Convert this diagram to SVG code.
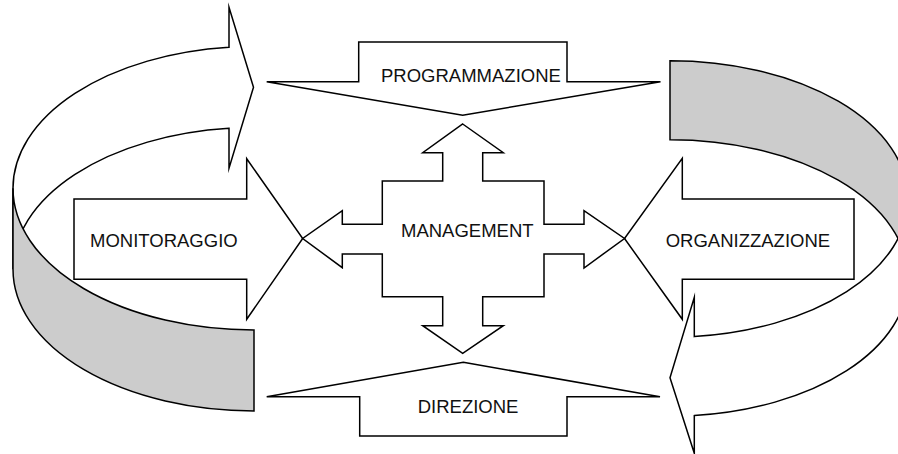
<svg xmlns="http://www.w3.org/2000/svg" width="898" height="454" viewBox="0 0 898 454">
<style>
.s{fill:#ffffff;stroke:#000;stroke-width:1.5;stroke-linejoin:miter;stroke-miterlimit:10}
.g{fill:#cccccc;stroke:#000;stroke-width:1.5;stroke-linejoin:miter}
.t{font-family:"Liberation Sans",Arial,sans-serif;font-size:18.5px;fill:#111}
</style>
<rect width="898" height="454" fill="#fff"/>
<g id="connectors">
<g id="ribbon-left">
<path class="s" d="M229,47.3 L229,7.3 L253.5,87.3 L229,168.3 L229,128.3 A241 141.7 0 0 0 13,269.2 L13,188.3 A241 141.7 0 0 1 229,47.3 Z"/>
<path class="g" d="M13,188.3 A241 141.7 0 0 0 254,330 L254,410.9 A241 141.7 0 0 1 13,269.2 Z"/>
</g>
<g id="ribbon-right">
<path class="s" d="M694.3,336.6 L694.3,297.3 L670,377.7 L694.3,453.3 L694.3,415.6 A238 138.3 0 0 0 908,278 L908,199 A238 138.3 0 0 1 694.3,336.6 Z"/>
<path class="g" d="M670,60.7 A238 138.3 0 0 1 908,199 L908,278 A238 138.3 0 0 0 670,139.7 Z"/>
</g>
</g>
<g id="programmazione">
<path class="s" d="M358.7,81.7 L358.7,42 L567,42 L567,81.7 L660.5,81.7 L462.7,115.3 L266.7,81.7 Z"/>
<text class="t" x="381" y="81.5">PROGRAMMAZIONE</text>
</g>
<g id="direzione">
<path class="s" d="M463.3,362.3 L660,396.7 L567,396.7 L567,436 L359.7,436 L359.7,396.7 L266.7,396.7 Z"/>
<text class="t" x="417.7" y="413.3">DIREZIONE</text>
</g>
<g id="monitoraggio">
<path class="s" d="M74,199 L246.7,199 L246.7,158.7 L302.7,238.5 L246.7,319.3 L246.7,279.3 L74,279.3 Z"/>
<text class="t" x="90" y="247.3">MONITORAGGIO</text>
</g>
<g id="organizzazione">
<path class="s" d="M854,199 L682.3,199 L682.3,158.3 L624.5,238.5 L682.3,319.3 L682.3,279.3 L854,279.3 Z"/>
<text class="t" x="665.7" y="247.3">ORGANIZZAZIONE</text>
</g>
<g id="management">
<path class="s" d="M462.7,124 L503.3,152.7 L482.7,152.7 L482.7,181 L544,181 L544,224.3 L584,224.3 L584,210.7 L624.5,238.5 L584,268 L584,254 L544,254 L544,296.7 L482.7,296.7 L482.7,325.7 L503.3,325.7 L462.7,353.3 L422.7,325.7 L442.7,325.7 L442.7,296.7 L382.3,296.7 L382.3,254 L342.3,254 L342.3,267.7 L302.7,238.5 L342.3,210.7 L342.3,224.3 L382.3,224.3 L382.3,181 L442.7,181 L442.7,152.7 L422.7,152.7 Z"/>
<text class="t" x="401" y="237">MANAGEMENT</text>
</g>
</svg>
